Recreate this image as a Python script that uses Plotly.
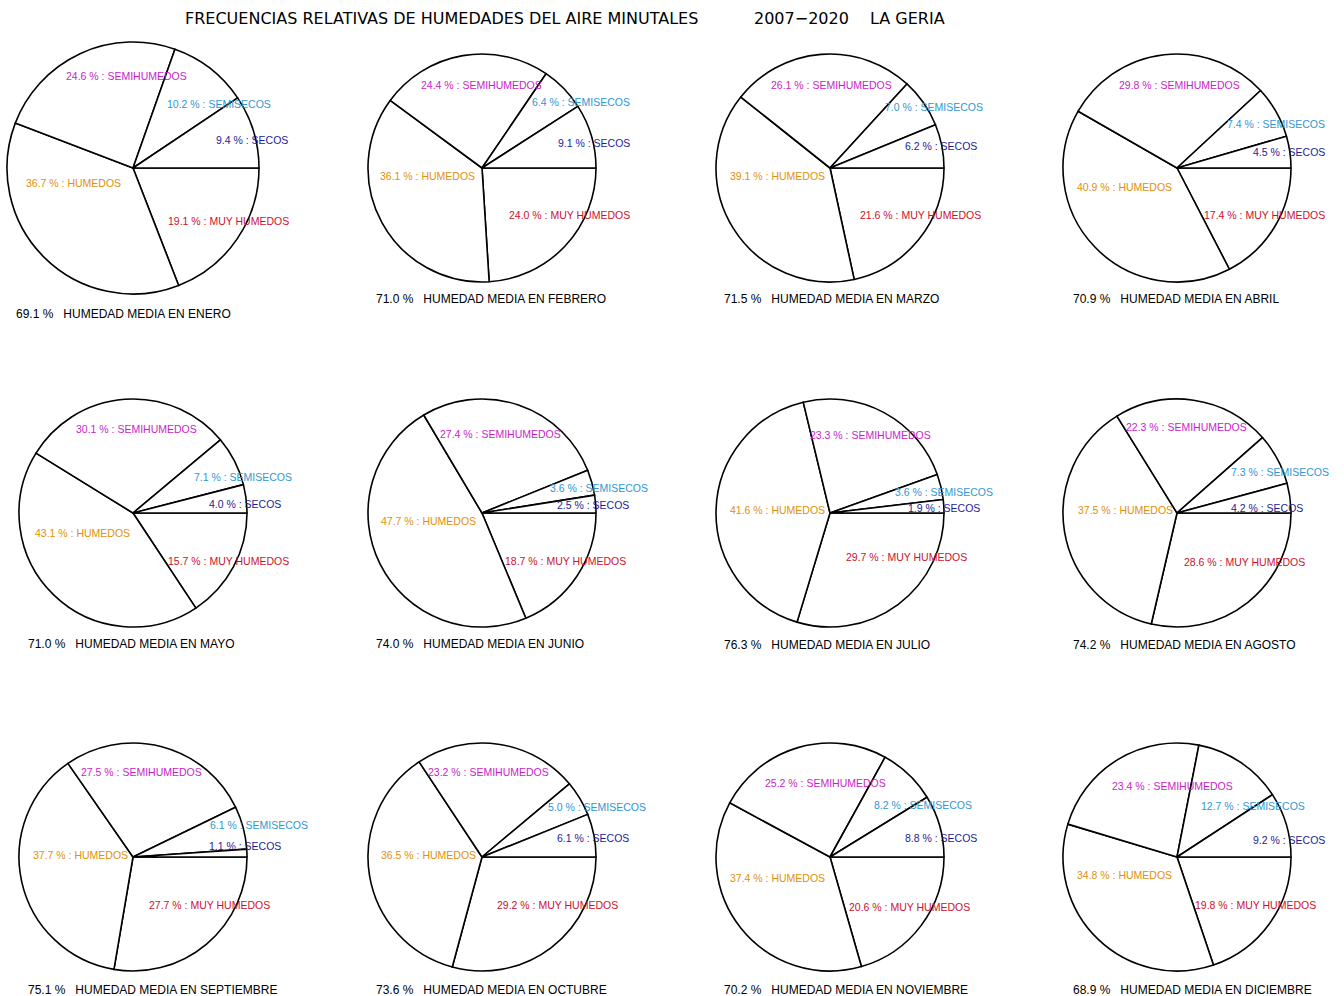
import plotly.graph_objects as go

# Monthly relative frequencies (%) of minute air-humidity classes, La Geria 2007-2020
MONTHS = ["ENERO", "FEBRERO", "MARZO", "ABRIL", "MAYO", "JUNIO",
          "JULIO", "AGOSTO", "SEPTIEMBRE", "OCTUBRE", "NOVIEMBRE", "DICIEMBRE"]

SECOS = [9.4, 9.1, 6.2, 4.5, 4.0, 2.5, 1.9, 4.2, 1.1, 6.1, 8.8, 9.2]
SEMISECOS = [10.2, 6.4, 7.0, 7.4, 7.1, 3.6, 3.6, 7.3, 6.1, 5.0, 8.2, 12.7]
SEMIHUMEDOS = [24.6, 24.4, 26.1, 29.8, 30.1, 27.4, 23.3, 22.3, 27.5, 23.2, 25.2, 23.4]
HUMEDOS = [36.7, 36.1, 39.1, 40.9, 43.1, 47.7, 41.6, 37.5, 37.7, 36.5, 37.4, 34.8]
MUY_HUMEDOS = [19.1, 24.0, 21.6, 17.4, 15.7, 18.7, 29.7, 28.6, 27.7, 29.2, 20.6, 19.8]
HUMEDAD_MEDIA = [69.1, 71.0, 71.5, 70.9, 71.0, 74.0, 76.3, 74.2, 75.1, 73.6, 70.2, 68.9]

# ---- layout (pixels) ----
W, H = 1344, 996
COL_X = [133, 482, 830, 1177]
ROW_Y = [168, 513, 857]
RADIUS = [126, 114, 114, 114, 114, 114, 114, 114, 114, 114, 114, 114]

COL_SECOS = "#1c1c96"
COL_SEMISECOS = "#2e97d4"
COL_SEMIHUMEDOS = "#c81ec8"
COL_HUMEDOS = "#e0900a"
COL_MUY = "#cc1030"

# label offsets from each pie centre: (dx, dy)
OFF_SEMIHUM = [(-7, -92), (-1, -83), (1, -83), (2, -83), (3, -84), (18, -79),
               (40, -78), (9, -86), (8, -85), (6, -85), (-5, -74), (-5, -71)]
OFF_SEMISEC = [(140, -64), (150, -66), (155, -61), (150, -44), (161, -36), (168, -25),
               (165, -21), (154, -41), (177, -32), (166, -50), (144, -52), (130, -51)]
OFF_SECOS = [(157, -28), (150, -25), (149, -22), (150, -16), (150, -9), (149, -8),
             (152, -5), (128, -5), (150, -11), (149, -19), (149, -19), (150, -17)]
OFF_HUM = [(-109, 15), (-104, 8), (-102, 8), (-102, 19), (-100, 20), (-103, 8),
           (-102, -3), (-101, -3), (-102, -2), (-103, -2), (-102, 21), (-102, 18)]
OFF_MUY = [(158, 53), (150, 47), (153, 47), (150, 47), (158, 48), (146, 48),
           (139, 44), (130, 49), (139, 48), (138, 48), (142, 50), (141, 48)]
OFF_FOOT = [(-119, 146), (-108, 131), (-108, 131), (-106, 131), (-107, 131), (-108, 131),
            (-108, 132), (-106, 132), (-107, 133), (-108, 133), (-108, 133), (-106, 133)]

FONT = "Liberation Sans, Arial, sans-serif"
TITLE_FONT = "DejaVu Sans, Verdana, sans-serif"
LABEL_SIZE = 10.5
FOOT_SIZE = 12
TITLE_SIZE = 16


def px(x):
    return x / W


def py(y):
    return 1 - y / H


fig = go.Figure()
annotations = []

for i, month in enumerate(MONTHS):
    cx = COL_X[i % 4]
    cy = ROW_Y[i // 4]
    r = RADIUS[i]
    # drawn clockwise from 3 o'clock: muy humedos below the horizontal radius,
    # secos just above it
    labels = ["MUY HUMEDOS", "HUMEDOS", "SEMIHUMEDOS", "SEMISECOS", "SECOS"]
    values = [MUY_HUMEDOS[i], HUMEDOS[i], SEMIHUMEDOS[i], SEMISECOS[i], SECOS[i]]

    fig.add_trace(go.Pie(
        labels=labels,
        values=values,
        sort=False,
        direction="clockwise",
        rotation=90,
        textinfo="none",
        marker=dict(colors=["white"] * 5, line=dict(color="black", width=1.6)),
        domain=dict(x=[px(cx - r), px(cx + r)], y=[py(cy + r), py(cy - r)]),
        showlegend=False,
        name=month,
        hovertemplate="%{label}: %{value:.1f} %<extra>" + month + "</extra>",
    ))

    def add_label(off, text, color, anchor, size=LABEL_SIZE):
        annotations.append(dict(
            x=px(cx + off[0]), y=py(cy + off[1]), xref="paper", yref="paper",
            text=text, showarrow=False, xanchor=anchor, yanchor="middle",
            font=dict(family=FONT, size=size, color=color),
        ))

    add_label(OFF_SEMIHUM[i], f"{SEMIHUMEDOS[i]:.1f} % : SEMIHUMEDOS", COL_SEMIHUMEDOS, "center")
    add_label(OFF_SEMISEC[i], f"{SEMISECOS[i]:.1f} % : SEMISECOS", COL_SEMISECOS, "right")
    add_label(OFF_SECOS[i], f"{SECOS[i]:.1f} % : SECOS", COL_SECOS, "right")
    add_label(OFF_HUM[i], f"{HUMEDOS[i]:.1f} % : HUMEDOS", COL_HUMEDOS, "left")
    add_label(OFF_MUY[i], f"{MUY_HUMEDOS[i]:.1f} % : MUY HUMEDOS", COL_MUY, "right")
    add_label(OFF_FOOT[i],
              f"{HUMEDAD_MEDIA[i]:.1f} %\u00a0\u00a0 HUMEDAD MEDIA EN {month}",
              "black", "left", FOOT_SIZE)

# title line
for x, anchor, text in [
    (441, "center", "FRECUENCIAS RELATIVAS DE HUMEDADES DEL AIRE MINUTALES"),
    (752, "left", "2007\u22122020"),
    (868, "left", "LA GERIA"),
]:
    annotations.append(dict(
        x=px(x), y=py(18), xref="paper", yref="paper", showarrow=False,
        xanchor=anchor, yanchor="middle", text=text,
        font=dict(family=TITLE_FONT, size=TITLE_SIZE, color="black"),
    ))

fig.update_layout(
    width=W, height=H,
    margin=dict(l=0, r=0, t=0, b=0),
    paper_bgcolor="white",
    plot_bgcolor="white",
    annotations=annotations,
    showlegend=False,
)

fig.write_html("out.html")
